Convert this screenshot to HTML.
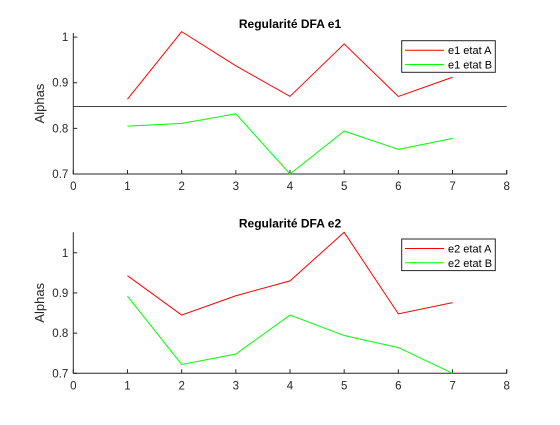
<!DOCTYPE html>
<html><head><meta charset="utf-8"><style>
body{margin:0;background:#fff;}
svg text{font-family:"Liberation Sans",sans-serif;}
</style></head><body>
<svg id="fig" width="560" height="420" xmlns="http://www.w3.org/2000/svg"></svg>
<script>
const categories=[1,2,3,4,5,6,7];
const e1A=[0.864,1.012,0.937,0.870,0.985,0.870,0.912];
const e1B=[0.805,0.811,0.832,0.700,0.794,0.754,0.778];
const e1Ref=[0.848];
const e2A=[0.943,0.845,0.893,0.930,1.051,0.848,0.876];
const e2B=[0.892,0.722,0.748,0.845,0.794,0.764,0.700];
const xTicks=[0,1,2,3,4,5,6,7,8];
const yTicks=[0.7,0.8,0.9,1];
const yTickLabels=['0.7','0.8','0.9','1'];
const NS='http://www.w3.org/2000/svg';
const svg=document.getElementById('fig');
function mk(t,a,p){const e=document.createElementNS(NS,t);for(const k in a)e.setAttribute(k,a[k]);(p||svg).appendChild(e);return e;}
function panel(cfg){
  const g=mk('g',{});
  
  
  const L=73.3,R=506.7,B=cfg.bottom,T=cfg.top;
  const xs=v=>L+(v-0)/(8-0)*(R-L);
  const ys=v=>B-(v-0.7)/(cfg.ymax-0.7)*(B-T);
  const ax=mk('path',{d:`M${L},${T}V${B}H${R}V${B-4}`,stroke:'#262626','stroke-width':1,fill:'none'},g);
  
  
  xTicks.forEach(v=>{
    const x=xs(v);
    const tk=mk('line',{x1:x,x2:x,y1:B,y2:B-4,stroke:'#262626'},g);
    
    
    const t=mk('text',{x:x,y:B+16,'text-anchor':'middle','font-size':11.5,fill:'#262626'},g);
    t.textContent=v;
    
    
  });
  yTicks.forEach((v,i)=>{
    const y=ys(v);
    const tk=mk('line',{x1:L,x2:L+4,y1:y,y2:y,stroke:'#262626'},g);
    
    
    const t=mk('text',{x:L-5,y:y+4,'text-anchor':'end','font-size':11.5,fill:'#262626'},g);
    t.textContent=yTickLabels[i];
    
    
  });
  const yl=mk('text',{x:0,y:0,'text-anchor':'middle','font-size':13,fill:'#262626',transform:`translate(44,${(T+B)/2}) rotate(-90)`},g);
  yl.textContent='Alphas';
  
  
  const ti=mk('text',{x:(L+R)/2,y:T-5,'text-anchor':'middle','font-size':12,'font-weight':'bold',fill:'#000'},g);
  ti.textContent=cfg.title;
  
  
  if(cfg.ref){
    const rl=mk('line',{x1:L,x2:R,y1:ys(cfg.ref[0]),y2:ys(cfg.ref[0]),stroke:'#404040','stroke-width':1},g);
    
    
  }
  cfg.series.forEach(s=>{
    const pts=categories.map((c,i)=>xs(c)+','+ys(s.vals[i])).join(' ');
    const pl=mk('polyline',{points:pts,fill:'none',stroke:s.color,'stroke-width':1},g);
    
    
  });
  const lg=mk('g',{},g);
  
  
  const ly=cfg.legTop;
  mk('rect',{x:401.7,y:ly,width:93.6,height:31.6,fill:'#fff',stroke:'#262626','stroke-width':1},lg);
  cfg.series.forEach((s,i)=>{
    const y=ly+9.5+i*14.3;
    const e=mk('g',{},lg);
    
    
    mk('line',{x1:405,x2:444,y1:y,y2:y,stroke:s.color},e);
    const t=mk('text',{x:448,y:y+4,'font-size':11,fill:'#000'},e);
    t.textContent=s.label;
  });
}
panel({name:'panel-e1',title:'Regularité DFA e1',top:33,bottom:174,ymax:1.009,ref:e1Ref,legTop:40.7,
  series:[{name:'line-e1-etat-a',label:'e1 etat A',color:'#ff0000',vals:e1A},{name:'line-e1-etat-b',label:'e1 etat B',color:'#00ff00',vals:e1B}]});
panel({name:'panel-e2',title:'Regularité DFA e2',top:232.3,bottom:373.3,ymax:1.051,legTop:239,
  series:[{name:'line-e2-etat-a',label:'e2 etat A',color:'#ff0000',vals:e2A},{name:'line-e2-etat-b',label:'e2 etat B',color:'#00ff00',vals:e2B}]});
</script>
</body></html>
